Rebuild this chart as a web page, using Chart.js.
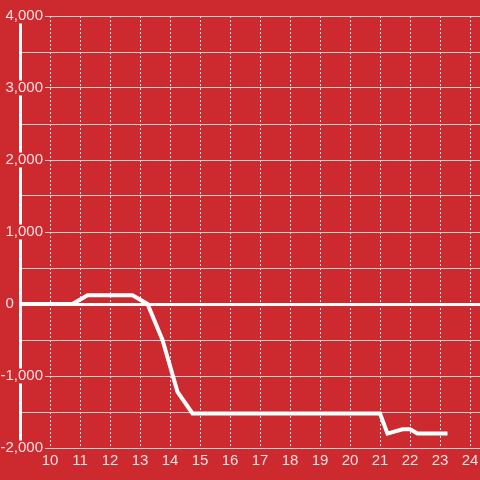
<!DOCTYPE html>
<html>
<head>
<meta charset="utf-8">
<script src="https://cdn.jsdelivr.net/npm/chart.js@4"></script>
<style>
  html, body { margin: 0; padding: 0; background: #cc2a2f; }
  #wrap { width: 480px; height: 480px; position: relative; }
</style>
</head>
<body>
<div id="wrap"><canvas id="chart"></canvas></div>
<script>
// --- DATA ---
const hours = [9, 10.75, 11.25, 12.75, 13.25, 13.75, 14.25, 14.75, 21.0, 21.25, 21.75, 22.0, 22.25, 23.25];
const values = [0, 0, 120, 120, 0, -500, -1220, -1520, -1520, -1800, -1740, -1740, -1800, -1800];
const xTicks = [10, 11, 12, 13, 14, 15, 16, 17, 18, 19, 20, 21, 22, 23, 24];

const BG = '#cc2a2f';
const TEXT = 'rgba(255, 255, 255, 0.85)';
const FAMILY = '"Liberation Sans", Arial, sans-serif';

const points = hours.map((h, i) => ({ x: h, y: values[i] }));

new Chart(document.getElementById('chart'), {
    type: 'line',
    data: {
        datasets: [{
            data: points,
            borderColor: '#ffffff',
            borderWidth: 4,
            tension: 0,
            pointRadius: 0,
            fill: false
        }]
    },
    options: {
        responsive: true,
        maintainAspectRatio: false,
        animation: false,
        layout: { padding: { top: 16, right: 0, bottom: 0, left: 0 } },
        plugins: {
            legend: { display: false },
            tooltip: { enabled: false }
        },
        scales: {
            x: {
                type: 'linear',
                min: 9,
                max: 24 + 1 / 3,
                afterBuildTicks: s => { s.ticks = xTicks.map(v => ({ value: v })); },
                afterFit: s => { s.height = 32; },
                border: { display: false, dash: [2, 2] },
                grid: {
                    color: '#e6e6e6',
                    lineWidth: 1,
                    drawTicks: false
                },
                ticks: {
                    color: TEXT,
                    font: { family: FAMILY, size: 15, lineHeight: 1.6 },
                    padding: 1,
                    maxRotation: 0,
                    callback: v => String(v)
                }
            },
            y: {
                min: -2000,
                max: 4000,
                afterFit: s => { s.width = 20; },
                border: { display: true, color: '#ffffff', width: 3 },
                grid: {
                    color: ctx => ctx.tick && ctx.tick.value === 0 ? '#ffffff' : '#cfcfcf',
                    lineWidth: ctx => ctx.tick && ctx.tick.value === 0 ? 3 : 1,
                    drawTicks: false
                },
                ticks: {
                    stepSize: 500,
                    color: TEXT,
                    font: { family: FAMILY, size: 15, lineHeight: 1 },
                    mirror: true,
                    crossAlign: 'far',
                    padding: -19.5,
                    showLabelBackdrop: true,
                    backdropColor: ctx => (ctx.tick.value % 1000 === 0 && ctx.tick.value !== 0) ? BG : 'rgba(0,0,0,0)',
                    backdropPadding: { top: 0, bottom: 0, left: 2, right: 2 },
                    callback: v => {
                        if (v % 1000 !== 0) return '';
                        if (v === 0) return '0       ';
                        return v.toLocaleString('en-US');
                    }
                }
            }
        }
    }
});
</script>
</body>
</html>
